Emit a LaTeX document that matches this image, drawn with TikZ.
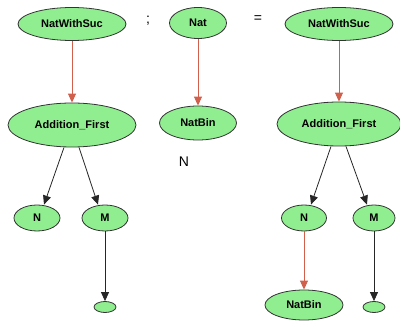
\documentclass[tikz,border=0pt]{standalone}
\usepackage{fontspec}
\setmainfont{Liberation Sans}
\usetikzlibrary{shapes.geometric,arrows.meta}
\definecolor{nodegreen}{HTML}{90EE90}
\definecolor{redarrow}{HTML}{D0604C}
\tikzset{
  en/.style={ellipse, draw=black!80, fill=nodegreen, line width=0.8pt, inner sep=0pt,
    font=\fontsize{11}{13}\selectfont\bfseries},
  blk/.style={draw=black!85, line width=0.8pt, -{Triangle[length=9pt,width=8pt]}},
  red/.style={draw=redarrow, line width=0.9pt, -{Triangle[length=9pt,width=8pt,fill=redarrow]}},
  txt/.style={font=\fontsize{14}{16}\selectfont}
}
\begin{document}
\begin{tikzpicture}[x=1pt,y=-1pt]
\useasboundingbox (0,0) rectangle (400,321);
% left
\node[en, minimum width=108pt, minimum height=33pt] (lnws) at (72,24) {NatWithSuc};
\node[en, minimum width=128pt, minimum height=44pt] (laf) at (72,125) {Addition\_First};
\node[en, minimum width=46pt, minimum height=26pt] (ln) at (37,218) {N};
\node[en, minimum width=46pt, minimum height=26pt] (lm) at (105,218) {M};
\node[en, minimum width=22pt, minimum height=11pt] (ls) at (105,307) {};
\draw[red] (lnws) -- (laf);
\draw[blk] ([xshift=-8pt]laf.south) -- ([xshift=7pt]ln.north);
\draw[blk] ([xshift=7pt]laf.south) -- ([xshift=-7pt]lm.north);
\draw[blk] (lm) -- (ls);
% middle
\node[txt] (semi) at (148,21) {;};
\node[en, minimum width=57pt, minimum height=31pt] (nat) at (198,23) {Nat};
\node[en, minimum width=77pt, minimum height=34pt] (mnb) at (198,123) {NatBin};
\draw[red] (nat) -- (mnb);
\node[txt] (nlab) at (184,162) {N};
\node[txt] (eq) at (258,19) {=};
% right
\node[en, minimum width=108pt, minimum height=33pt] (rnws) at (339,24) {NatWithSuc};
\node[en, minimum width=124pt, minimum height=44pt] (raf) at (339,124) {Addition\_First};
\node[en, minimum width=45pt, minimum height=26pt] (rn) at (304,218) {N};
\node[en, minimum width=42pt, minimum height=26pt] (rm) at (374,218) {M};
\node[en, minimum width=78pt, minimum height=30pt] (rnb) at (304,305) {NatBin};
\node[en, minimum width=22pt, minimum height=11pt] (rs) at (374,307) {};
\draw[red] (rnws) -- (raf);
\draw[blk] ([xshift=-8pt]raf.south) -- ([xshift=7pt]rn.north);
\draw[blk] ([xshift=7pt]raf.south) -- ([xshift=-7pt]rm.north);
\draw[red] (rn) -- (rnb);
\draw[blk] (rm) -- (rs);
\end{tikzpicture}
\end{document}
